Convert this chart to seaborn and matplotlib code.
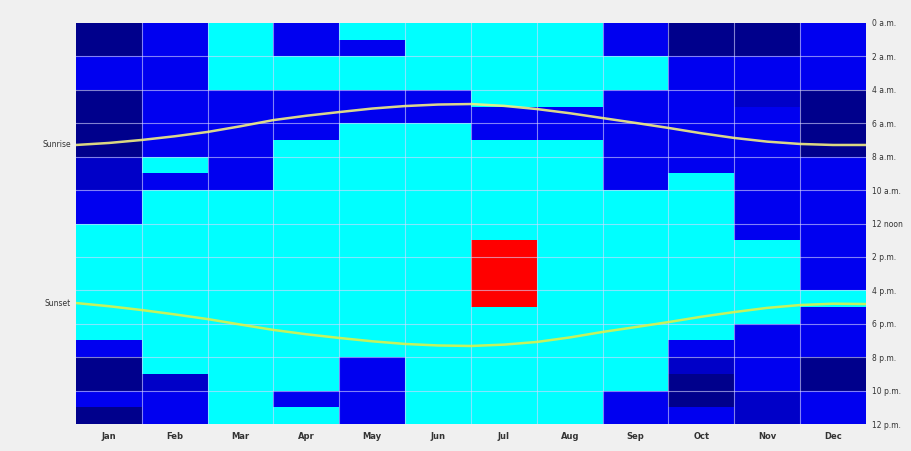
import matplotlib
matplotlib.use('Agg')
import matplotlib.pyplot as plt
from matplotlib.colors import ListedColormap, BoundaryNorm
import seaborn as sns
import pandas as pd
import numpy as np

# category codes per hour (0..23): 0 navy, 1 dark blue, 2 blue, 3 cyan, 4 red
months = ['Jan', 'Feb', 'Mar', 'Apr', 'May', 'Jun',
          'Jul', 'Aug', 'Sep', 'Oct', 'Nov', 'Dec']
jan = [0, 0, 2, 2, 0, 0, 0, 0, 1, 1, 2, 2, 3, 3, 3, 3, 3, 3, 3, 2, 0, 0, 2, 0]
feb = [2, 2, 2, 2, 2, 2, 2, 2, 3, 2, 3, 3, 3, 3, 3, 3, 3, 3, 3, 3, 3, 1, 2, 2]
mar = [3, 3, 3, 3, 2, 2, 2, 2, 2, 2, 3, 3, 3, 3, 3, 3, 3, 3, 3, 3, 3, 3, 3, 3]
apr = [2, 2, 3, 3, 2, 2, 2, 3, 3, 3, 3, 3, 3, 3, 3, 3, 3, 3, 3, 3, 3, 3, 2, 3]
may = [3, 2, 3, 3, 2, 2, 3, 3, 3, 3, 3, 3, 3, 3, 3, 3, 3, 3, 3, 3, 2, 2, 2, 2]
jun = [3, 3, 3, 3, 2, 2, 3, 3, 3, 3, 3, 3, 3, 3, 3, 3, 3, 3, 3, 3, 3, 3, 3, 3]
jul = [3, 3, 3, 3, 3, 2, 2, 3, 3, 3, 3, 3, 3, 4, 4, 4, 4, 3, 3, 3, 3, 3, 3, 3]
aug = [3, 3, 3, 3, 3, 2, 2, 3, 3, 3, 3, 3, 3, 3, 3, 3, 3, 3, 3, 3, 3, 3, 3, 3]
sep = [2, 2, 3, 3, 2, 2, 2, 2, 2, 2, 3, 3, 3, 3, 3, 3, 3, 3, 3, 3, 3, 3, 2, 2]
oct_ = [0, 0, 2, 2, 2, 2, 2, 2, 2, 3, 3, 3, 3, 3, 3, 3, 3, 3, 3, 2, 1, 0, 0, 2]
nov = [0, 0, 2, 2, 1, 2, 2, 2, 2, 2, 2, 2, 2, 3, 3, 3, 3, 3, 2, 2, 2, 2, 1, 1]
dec = [2, 2, 2, 2, 0, 0, 0, 0, 2, 2, 2, 2, 2, 2, 2, 2, 3, 2, 2, 2, 0, 0, 2, 2]

# sunrise / sunset (hour of day) read at month boundaries and mid-months
curve_pos = [0, 0.5, 1, 1.5, 2, 2.5, 3, 3.5, 4, 4.5, 5, 5.5, 6,
             6.5, 7, 7.5, 8, 8.5, 9, 9.5, 10, 10.5, 11, 11.5, 12]
sunrise = [7.30, 7.18, 7.00, 6.78, 6.52, 6.18, 5.81, 5.55, 5.33, 5.12, 4.97, 4.88, 4.85,
           4.96, 5.15, 5.40, 5.69, 5.98, 6.28, 6.60, 6.88, 7.10, 7.24, 7.30, 7.30]
sunset = [16.76, 16.95, 17.18, 17.44, 17.72, 18.05, 18.37, 18.63, 18.85, 19.05, 19.21, 19.30, 19.33,
          19.25, 19.09, 18.82, 18.49, 18.20, 17.90, 17.58, 17.30, 17.05, 16.88, 16.80, 16.82]

hour_labels = ['0 a.m.', '2 a.m.', '4 a.m.', '6 a.m.', '8 a.m.', '10 a.m.', '12 noon',
               '2 p.m.', '4 p.m.', '6 p.m.', '8 p.m.', '10 p.m.', '12 p.m.']

df = pd.DataFrame(dict(zip(months, [jan, feb, mar, apr, may, jun,
                                    jul, aug, sep, oct_, nov, dec])))

cmap = ListedColormap(['#00008c', '#0000c8', '#0000f0', '#00ffff', '#ff0000'])
norm = BoundaryNorm([-0.5, 0.5, 1.5, 2.5, 3.5, 4.5], cmap.N)

fig = plt.figure(figsize=(9.12, 4.51), dpi=100, facecolor='#f0f0f0')
ax = fig.add_axes([76 / 912, 1 - 424 / 451, 790 / 912, 401 / 451])

sns.heatmap(df, cmap=cmap, norm=norm, cbar=False, ax=ax,
            xticklabels=months, yticklabels=False)

# grid: month boundaries and every 2 hours
for x in range(1, 12):
    ax.axvline(x, color='#d8d8ff', lw=0.8, alpha=0.6)
for y in range(2, 24, 2):
    ax.axhline(y, color='#d8d8ff', lw=0.8, alpha=0.6)

# sunrise / sunset curves
ax.plot(curve_pos, sunrise, color='#f4f080', lw=1.8, alpha=0.9,
        solid_joinstyle='round')
ax.plot(curve_pos, sunset, color='#e8f040', lw=1.8, alpha=0.85,
        solid_joinstyle='round')

ax.text(-0.08, sunrise[0], 'Sunrise', ha='right', va='center', fontsize=5.5,
        color='#333333')
ax.text(-0.08, sunset[0], 'Sunset', ha='right', va='center', fontsize=5.5,
        color='#333333')

ax.set_xlim(0, 12)
ax.set_ylim(24, 0)
ax.set_xlabel('')
ax.set_ylabel('')
ax.tick_params(axis='x', length=0, labelsize=6, labelcolor='#333333', pad=6)
ax.set_yticks(range(0, 25, 2))
ax.set_yticklabels(hour_labels)
ax.yaxis.tick_right()
ax.tick_params(axis='y', length=0, labelsize=5.5, labelcolor='#333333', pad=4,
               labelright=True, labelleft=False)
for lbl in ax.get_xticklabels():
    lbl.set_fontweight('bold')
for s in ax.spines.values():
    s.set_visible(False)

fig.savefig('out.png', dpi=100, facecolor=fig.get_facecolor())
